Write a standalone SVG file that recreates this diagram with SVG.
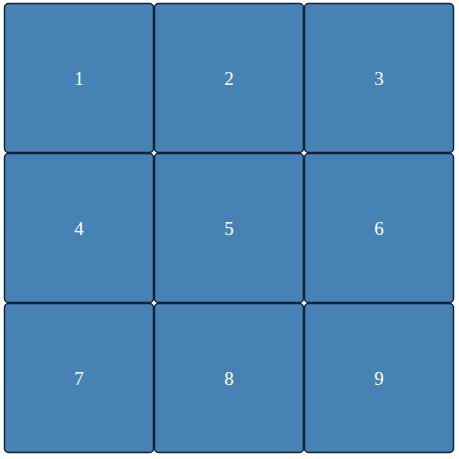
<svg xmlns="http://www.w3.org/2000/svg" width="459" height="459" viewBox="0 0 459 459">
<style>
.cell{fill:#4682b4;stroke:#13233a;stroke-width:1.5}
.lbl{fill:#ffffff;font-family:"Liberation Serif",serif;font-size:19px;text-anchor:middle}
</style>
<rect width="459" height="459" fill="#ffffff"/>
<g id="connectors"></g>
<g id="n1"><rect class="cell" x="4.5" y="3.5" width="149" height="149" rx="4"/><text class="lbl" x="79" y="85">1</text></g>
<g id="n2"><rect class="cell" x="154.5" y="3.5" width="149" height="149" rx="4"/><text class="lbl" x="229" y="85">2</text></g>
<g id="n3"><rect class="cell" x="304.5" y="3.5" width="149" height="149" rx="4"/><text class="lbl" x="379" y="85">3</text></g>
<g id="n4"><rect class="cell" x="4.5" y="153.5" width="149" height="149" rx="4"/><text class="lbl" x="79" y="235">4</text></g>
<g id="n5"><rect class="cell" x="154.5" y="153.5" width="149" height="149" rx="4"/><text class="lbl" x="229" y="235">5</text></g>
<g id="n6"><rect class="cell" x="304.5" y="153.5" width="149" height="149" rx="4"/><text class="lbl" x="379" y="235">6</text></g>
<g id="n7"><rect class="cell" x="4.5" y="303.5" width="149" height="149" rx="4"/><text class="lbl" x="79" y="385">7</text></g>
<g id="n8"><rect class="cell" x="154.5" y="303.5" width="149" height="149" rx="4"/><text class="lbl" x="229" y="385">8</text></g>
<g id="n9"><rect class="cell" x="304.5" y="303.5" width="149" height="149" rx="4"/><text class="lbl" x="379" y="385">9</text></g>
</svg>
